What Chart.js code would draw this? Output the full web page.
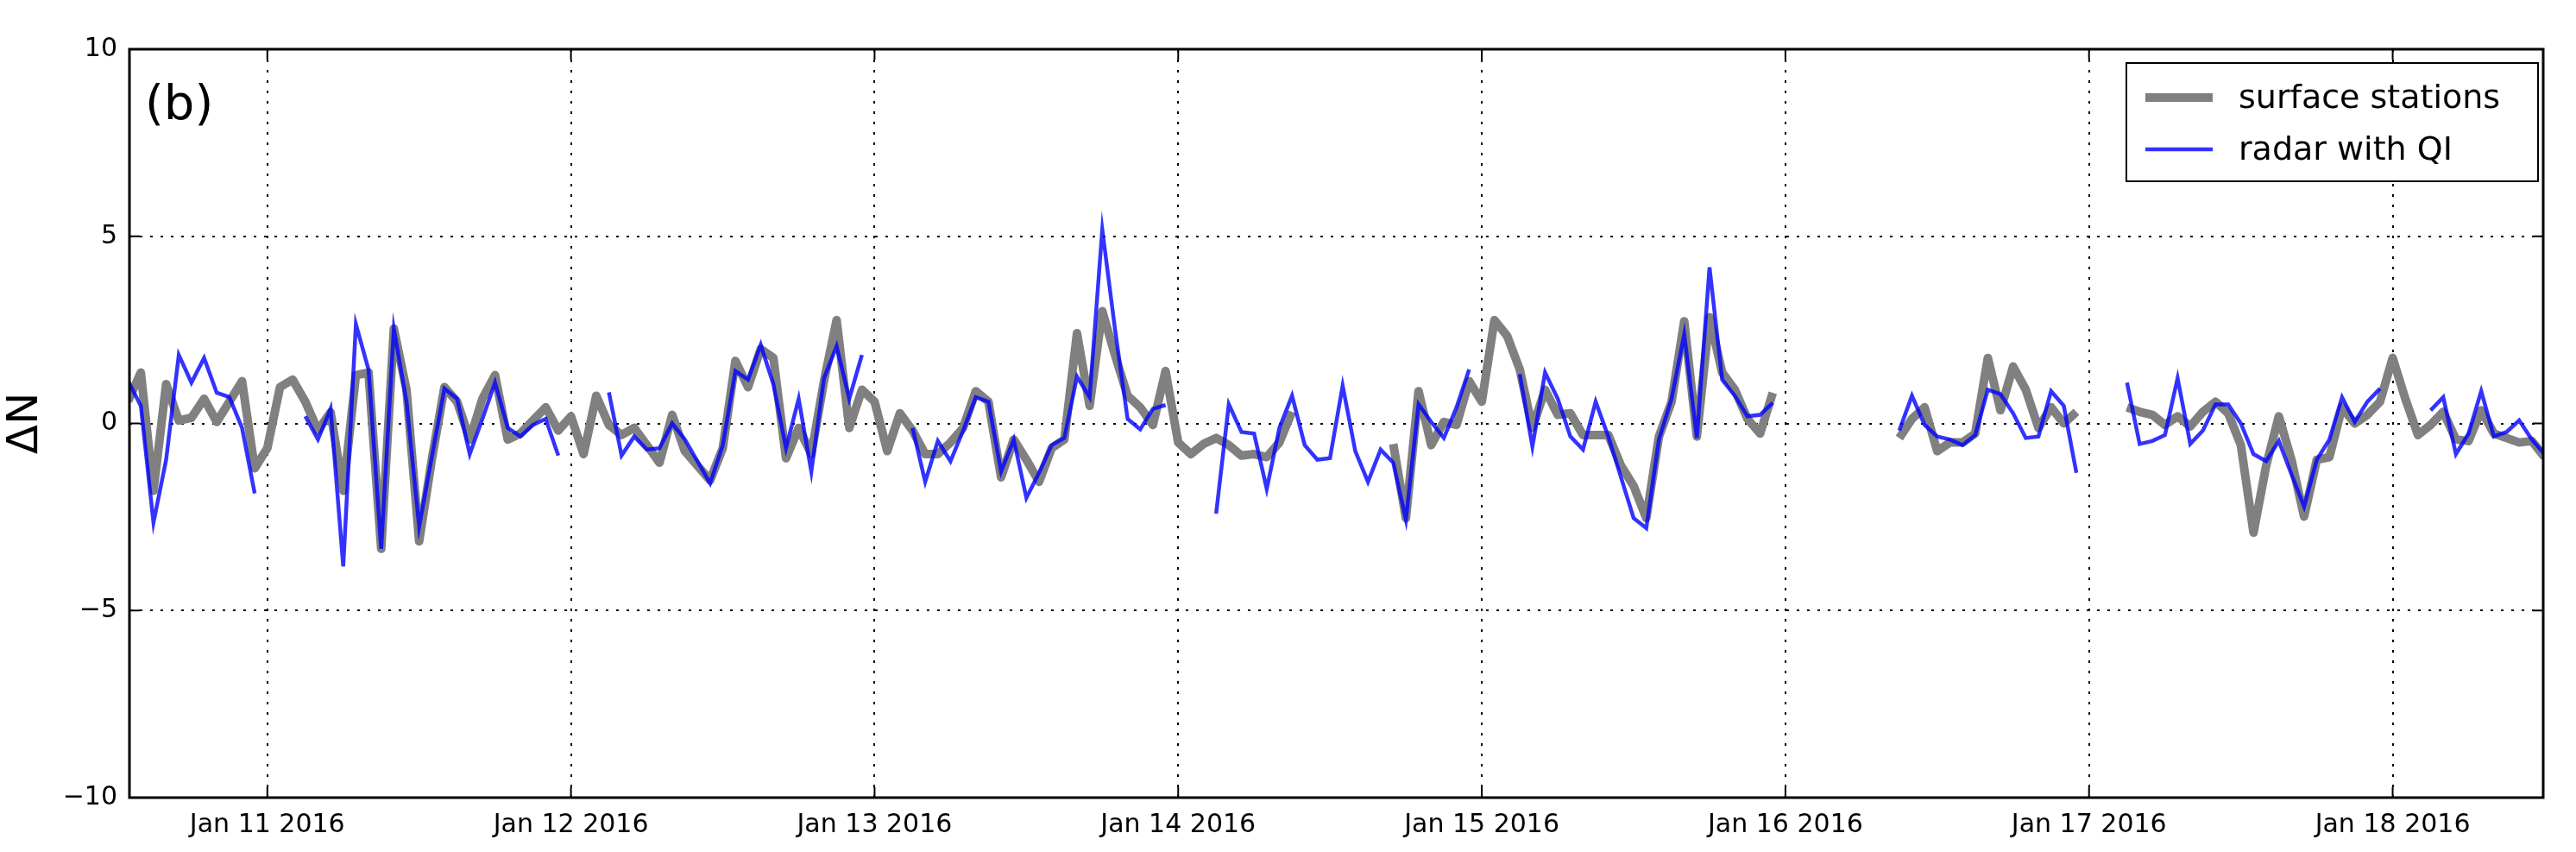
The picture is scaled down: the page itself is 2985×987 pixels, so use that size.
<!DOCTYPE html>
<html><head><meta charset="utf-8">
<script src="https://cdn.jsdelivr.net/npm/chart.js@4"></script>
<style>html,body{margin:0;padding:0;background:#fff}#w{width:2985px;height:987px}</style>
</head><body><div id="w"><canvas id="c"></canvas></div>
<script>
// hourly samples, hours counted from Jan 10 2016 00:00
const startHour = 13;
const surfaceStations = [0.6,1.36,-1.8,1.05,0.08,0.15,0.66,0.04,0.58,1.13,-1.2,-0.66,0.97,1.17,0.58,-0.19,0.3,-1.8,1.29,1.36,-3.35,2.53,0.9,-3.15,-0.97,0.97,0.58,-0.43,0.66,1.29,-0.43,-0.27,0.08,
0.43,-0.19,0.19,-0.82,0.74,-0.04,-0.31,-0.12,-0.58,-1.05,0.23,-0.74,-1.13,-1.52,-0.66,1.67,0.97,1.99,1.75,-0.93,-0.12,-0.82,1.13,2.76,-0.12,0.9,0.58,-0.74,0.27,-0.19,-0.82,
-0.82,-0.51,-0.12,0.86,0.58,-1.44,-0.43,-0.97,-1.56,-0.66,-0.43,2.41,0.47,3.0,1.83,0.74,0.43,-0.04,1.4,-0.51,-0.82,-0.55,-0.39,-0.58,-0.86,-0.82,-0.9,-0.51,0.31,
null,null,null,null,null,null,null,-0.55,-2.53,0.86,-0.58,0.04,-0.04,1.13,0.58,2.76,2.34,1.44,-0.12,0.9,0.23,0.27,-0.31,-0.31,-0.31,-1.13,-1.67,-2.53,-0.35,0.58,2.73,-0.35,2.84,1.36,0.9,0.12,-0.27,0.82,
null,null,null,null,null,null,null,null,null,-0.39,0.12,0.43,-0.74,-0.51,-0.51,-0.27,1.75,0.35,1.52,0.9,-0.12,0.43,0,0.31,null,null,null,
0.43,0.31,0.23,-0.04,0.19,-0.08,0.31,0.58,0.27,-0.58,-2.92,-1.13,0.19,-0.97,-2.49,-0.97,-0.9,0.43,0,0.23,0.58,1.75,0.66,-0.31,-0.04,0.31,-0.43,-0.47,0.35,-0.27,-0.39,-0.51,-0.47,-0.9];
const radarWithQI = [1.13,0.47,-2.65,-0.97,1.83,1.09,1.75,0.82,0.7,-0.12,-1.87,null,null,null,0.19,-0.43,0.39,-3.82,2.65,1.44,-3.35,2.53,0.58,-2.76,-0.9,0.93,0.66,-0.82,0.12,1.09,-0.12,-0.35,-0.04,
0.12,-0.86,null,null,null,0.83,-0.86,-0.35,-0.7,-0.66,0,-0.43,-1.01,-1.6,-0.58,1.4,1.17,2.1,1.05,-0.66,0.66,-1.29,1.21,2.06,0.66,1.83,null,null,null,-0.12,-1.56,
-0.47,-1.01,-0.19,0.7,0.58,-1.29,-0.43,-1.99,-1.32,-0.58,-0.39,1.25,0.7,5.18,2.53,0.12,-0.16,0.39,0.49,null,null,null,-2.41,0.51,-0.23,-0.27,-1.75,-0.12,0.74,
-0.58,-0.97,-0.93,1.01,-0.74,-1.56,-0.7,-1.05,-2.57,0.51,0.04,-0.39,0.43,1.44,null,null,null,1.32,-0.62,1.36,0.66,-0.35,-0.7,0.58,-0.35,-1.44,-2.53,-2.8,-0.43,0.66,2.38,-0.39,4.17,1.17,0.74,0.19,0.23,0.55,
null,null,null,null,null,null,null,null,null,-0.19,0.74,-0.04,-0.35,-0.43,-0.58,-0.31,0.9,0.78,0.27,-0.39,-0.35,0.86,0.47,-1.32,null,null,null,
1.09,-0.55,-0.47,-0.31,1.21,-0.55,-0.19,0.51,0.51,0,-0.82,-1.01,-0.47,-1.36,-2.22,-0.97,-0.43,0.7,0.04,0.58,0.93,null,null,null,0.35,0.7,-0.82,-0.27,0.86,-0.35,-0.23,0.08,-0.43,-0.82];
const tickHours = [24,48,72,96,120,144,168,192];
const tickLabels = ['Jan 11 2016','Jan 12 2016','Jan 13 2016','Jan 14 2016','Jan 15 2016','Jan 16 2016','Jan 17 2016','Jan 18 2016'];
const yTicks = [-10,-5,0,5,10];

const toPts = arr => arr.map((v,i)=>({x:startHour+i,y:v}));
const F = 'DejaVu Sans';

const deco = {
  id:'deco',
  afterDraw(ch){
    const c=ch.ctx, a=ch.chartArea;
    c.save();
    c.strokeStyle='#000'; c.lineWidth=3;
    c.strokeRect(a.left,a.top,a.right-a.left,a.bottom-a.top);
    c.lineWidth=2;
    const xs=ch.scales.x, ys=ch.scales.y;
    tickHours.forEach(h=>{const px=xs.getPixelForValue(h);
      c.beginPath();c.moveTo(px,a.bottom);c.lineTo(px,a.bottom-12);c.moveTo(px,a.top);c.lineTo(px,a.top+12);c.stroke();});
    yTicks.forEach(v=>{const py=ys.getPixelForValue(v);
      c.beginPath();c.moveTo(a.left,py);c.lineTo(a.left+12,py);c.moveTo(a.right,py);c.lineTo(a.right-12,py);c.stroke();});
    c.fillStyle='#000'; c.font='56px "'+F+'"'; c.textBaseline='middle'; c.textAlign='left';
    c.fillText('(b)',a.left+18,a.top+66);
    const L=2464,T=73,W=477,H=137;
    c.fillStyle='#fff'; c.fillRect(L,T,W,H);
    c.lineWidth=2; c.strokeStyle='#000'; c.strokeRect(L,T,W,H);
    const ds=ch.data.datasets;
    [[ds[0],T+40],[ds[1],T+100]].forEach(([d,y])=>{
      c.strokeStyle=d.borderColor; c.lineWidth=d.borderWidth;
      c.beginPath(); c.moveTo(L+22,y); c.lineTo(L+100,y); c.stroke();
      c.fillStyle='#000'; c.font='38px "'+F+'"';
      c.fillText(d.label,L+130,y+2);
    });
    c.restore();
  }
};

new Chart(document.getElementById('c'),{
  type:'line',
  data:{datasets:[
    {label:'surface stations',data:toPts(surfaceStations),borderColor:'#808080',borderWidth:10,pointRadius:0,spanGaps:false,tension:0,borderJoinStyle:'round',order:2},
    {label:'radar with QI',data:toPts(radarWithQI),borderColor:'rgba(0,0,255,0.8)',borderWidth:4.5,pointRadius:0,spanGaps:false,tension:0,order:1}
  ]},
  options:{
    responsive:true,maintainAspectRatio:false,animation:false,
    layout:{padding:{top:57,right:38,left:0,bottom:0}},
    plugins:{legend:{display:false},tooltip:{enabled:false}},
    scales:{
      x:{type:'linear',min:13.1,max:203.9,
        afterBuildTicks:s=>{s.ticks=tickHours.map(v=>({value:v}));},
        afterFit:s=>{s.height=63;},
        ticks:{autoSkip:false,maxRotation:0,padding:14,color:'#000',font:{family:F,size:30},
          callback:v=>tickLabels[tickHours.indexOf(v)]},
        grid:{color:'#000',lineWidth:2,drawTicks:false},
        border:{display:false,dash:[3,9]}},
      y:{min:-10,max:10,
        afterBuildTicks:s=>{s.ticks=yTicks.map(v=>({value:v}));},
        afterFit:s=>{s.width=150;},
        title:{display:true,text:'ΔN',color:'#000',font:{family:F,size:50},padding:{top:0,bottom:6}},
        ticks:{padding:14,color:'#000',font:{family:F,size:30},callback:v=>(v<0?'\u2212'+Math.abs(v):''+v)},
        grid:{color:'#000',lineWidth:2,drawTicks:false},
        border:{display:false,dash:[3,9]}}
    }
  },
  plugins:[deco]
});
</script></body></html>
